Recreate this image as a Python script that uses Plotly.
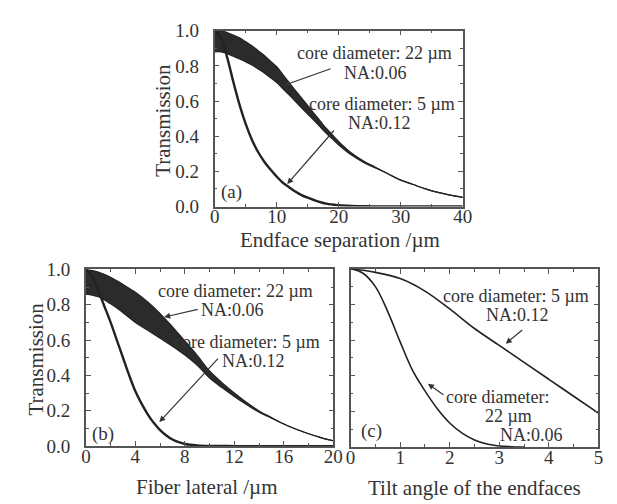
import plotly.graph_objects as go

W, H = 617, 504

# ---------------- data ----------------
# (a) Endface separation
a_x22 = [0, 1, 2, 3, 4, 5, 6, 7, 8, 9, 10, 11, 12, 13, 14, 15, 16, 17, 18, 19, 20, 22, 24, 26, 28, 30, 32, 34, 36, 38, 40]
a_up22 = [1.0, 1.0, 0.99, 0.975, 0.96, 0.937, 0.915, 0.887, 0.86, 0.827, 0.795, 0.75, 0.705, 0.661, 0.618, 0.574,
          0.53, 0.487, 0.444, 0.407, 0.37, 0.306, 0.259, 0.222, 0.185, 0.15, 0.125, 0.10, 0.08, 0.065, 0.052]
a_lo22 = [0.88, 0.88, 0.87, 0.855, 0.84, 0.823, 0.805, 0.783, 0.76, 0.733, 0.705, 0.67, 0.635, 0.599, 0.562, 0.526,
          0.49, 0.453, 0.416, 0.383, 0.35, 0.294, 0.251, 0.218, 0.185, 0.15, 0.125, 0.10, 0.08, 0.065, 0.052]
a_x5 = [0, 1, 2, 3, 4, 5, 6, 7, 8, 9, 10, 11, 12, 13, 14, 15, 16, 18, 20, 22, 25, 30, 40]
a_y5 = [1.0, 0.96, 0.85, 0.71, 0.58, 0.47, 0.38, 0.31, 0.255, 0.21, 0.17, 0.135, 0.11, 0.085, 0.065, 0.05,
        0.037, 0.016, 0.007, 0.003, 0.001, 0.0, 0.0]

# (b) Fiber lateral
b_x22 = [0, 1, 2, 3, 4, 5, 6, 7, 8, 9, 10, 11, 12, 13, 14, 15, 16, 17, 18, 19, 20]
b_up22 = [1.0, 0.985, 0.955, 0.915, 0.87, 0.815, 0.75, 0.675, 0.595, 0.513, 0.425, 0.359, 0.30, 0.246, 0.199,
          0.162, 0.125, 0.095, 0.07, 0.048, 0.03]
b_lo22 = [0.86, 0.845, 0.805, 0.755, 0.70, 0.655, 0.61, 0.565, 0.515, 0.457, 0.385, 0.331, 0.28, 0.234, 0.191,
          0.158, 0.125, 0.095, 0.07, 0.048, 0.03]
b_x5 = [0, 0.5, 1, 1.5, 2, 2.5, 3, 3.5, 4, 4.5, 5, 5.5, 6, 6.5, 7, 7.5, 8, 9, 10, 12, 20]
b_y5 = [1.0, 0.96, 0.88, 0.79, 0.70, 0.60, 0.50, 0.40, 0.31, 0.24, 0.18, 0.13, 0.09, 0.06, 0.037, 0.022,
        0.012, 0.004, 0.001, 0.0, 0.0]

# (c) Tilt angle
c_x5 = [0, 0.5, 1, 1.5, 2, 2.5, 3, 3.5, 4, 4.5, 5]
c_y5 = [1.0, 0.98, 0.945, 0.875, 0.775, 0.665, 0.57, 0.475, 0.38, 0.285, 0.19]
c_x22 = [0, 0.25, 0.5, 0.75, 1.0, 1.25, 1.5, 1.75, 2.0, 2.25, 2.5, 2.75, 3.0, 3.25, 3.5]
c_y22 = [1.0, 0.975, 0.90, 0.76, 0.59, 0.43, 0.315, 0.215, 0.135, 0.078, 0.04, 0.017, 0.006, 0.002, 0.0]

a_xticks = [0, 10, 20, 30, 40]
b_xticks = [0, 4, 8, 12, 16, 20]
c_xticks = [0, 1, 2, 3, 4, 5]
y_ticks = [0.0, 0.2, 0.4, 0.6, 0.8, 1.0]

# ---------------- styling ----------------
FONT = "Liberation Serif"
TXT = "#333333"
LC = "#222222"
FRAME = "#555555"


def px(x):
    return x / W


def py(y):
    return 1 - y / H


fig = go.Figure()


def band(x, up, lo, n):
    xa, ya = ("x", "y") if n == 1 else ("x%d" % n, "y%d" % n)
    fig.add_trace(go.Scatter(x=x, y=up, mode="lines", xaxis=xa, yaxis=ya, hoverinfo="skip",
                             line=dict(color=LC, width=1.2, shape="spline"), showlegend=False))
    fig.add_trace(go.Scatter(x=x, y=lo, mode="lines", xaxis=xa, yaxis=ya, hoverinfo="skip",
                             line=dict(color=LC, width=1.2, shape="spline"), fill="tonexty",
                             fillcolor="rgba(25,25,25,0.92)", showlegend=False))


def line(x, y, n, w=1.6):
    xa, ya = ("x", "y") if n == 1 else ("x%d" % n, "y%d" % n)
    fig.add_trace(go.Scatter(x=x, y=y, mode="lines", xaxis=xa, yaxis=ya, hoverinfo="skip",
                             line=dict(color=LC, width=w, shape="spline"), showlegend=False))


band(a_x22, a_up22, a_lo22, 1)
line(a_x5, a_y5, 1, 2.4)
band(b_x22, b_up22, b_lo22, 2)
line(b_x5, b_y5, 2, 2.4)
line(c_x5, c_y5, 3)
line(c_x22, c_y22, 3)

common = dict(showline=True, linecolor=FRAME, linewidth=1.5, mirror="allticks", ticks="inside",
              ticklen=5, tickwidth=1, tickcolor=FRAME, showgrid=False, zeroline=False,
              tickfont=dict(family=FONT, size=19, color=TXT))
xstand = -8
ystand = 10

fig.update_layout(
    width=W, height=H, margin=dict(l=0, r=0, t=0, b=0),
    paper_bgcolor="white", plot_bgcolor="white", showlegend=False,
    font=dict(family=FONT, color=TXT),
    xaxis=dict(common, domain=[px(206.7), px(461)], range=[0, 40], tickvals=a_xticks,
               minor=dict(dtick=5, ticks="inside", ticklen=3, tickcolor=FRAME), anchor="y",
               ticklabelstandoff=xstand),
    yaxis=dict(common, domain=[py(196.7), py(13.3)], range=[0, 1], tickvals=y_ticks, tickformat=".1f",
               minor=dict(dtick=0.1, ticks="inside", ticklen=3, tickcolor=FRAME), anchor="x",
               ticklabelstandoff=ystand),
    xaxis2=dict(common, domain=[px(74.7), px(328.3)], range=[0, 20], tickvals=b_xticks,
                minor=dict(dtick=2, ticks="inside", ticklen=3, tickcolor=FRAME), anchor="y2",
                ticklabelstandoff=xstand),
    yaxis2=dict(common, domain=[py(446.7), py(262.3)], range=[0, 1], tickvals=y_ticks, tickformat=".1f",
                minor=dict(dtick=0.1, ticks="inside", ticklen=3, tickcolor=FRAME), anchor="x2",
                ticklabelstandoff=ystand),
    xaxis3=dict(common, domain=[px(346), px(600)], range=[0, 5], tickvals=c_xticks,
                minor=dict(dtick=0.5, ticks="inside", ticklen=3, tickcolor=FRAME), anchor="y3",
                ticklabelstandoff=xstand),
    yaxis3=dict(common, domain=[py(447.7), py(261.7)], range=[0, 1], tickvals=y_ticks,
                showticklabels=False,
                minor=dict(dtick=0.1, ticks="inside", ticklen=3, tickcolor=FRAME), anchor="x3"),
)


def text(t, x, y, size=18, angle=0):
    fig.add_annotation(text=t, x=px(x), y=py(y), xref="paper", yref="paper", showarrow=False,
                       xanchor="center", yanchor="middle", textangle=angle,
                       font=dict(family=FONT, size=size, color=TXT))


def arrow(n, x, y, ax, ay):
    xr, yr = ("x", "y") if n == 1 else ("x%d" % n, "y%d" % n)
    fig.add_annotation(x=x, y=y, xref=xr, yref=yr, ax=ax, ay=ay, showarrow=True, text="",
                       arrowhead=2, arrowsize=1, arrowwidth=1.2, arrowcolor=TXT, standoff=0)


# axis titles
text("Transmission", 153, 107, 21, -90)
text("Transmission", 24, 356, 21, -90)
text("Endface separation /µm", 335, 232, 21)
text("Fiber lateral /µm", 199, 489, 21)
text("Tilt angle of the endfaces", 473, 490, 21)

# panel labels
text("(a)", 224, 182, 19)
text("(b)", 92, 434, 19)
text("(c)", 367, 431, 19)

# (a) labels
text("core diameter: 22 µm", 370, 37)
text("NA:0.06", 372, 57)
text("core diameter: 5 µm", 378, 90)
text("NA:0.12", 376, 110)
arrow(1, 11.2, 0.69, 48, -17)
arrow(1, 11.7, 0.128, 48, -55)

# (b) labels
text("core diameter: 22 µm", 228, 285)
text("NA:0.06", 225, 305)
text("core diameter: 5 µm", 240, 338)
text("NA:0.12", 247, 358)
arrow(2, 6.33, 0.73, 35, -8)
arrow(2, 5.94, 0.136, 60, -65)

# (c) labels
text("core diameter: 5 µm", 516, 290)
text("NA:0.12", 517, 310)
arrow(3, 3.13, 0.58, 18, -15)
text("core diameter:", 497, 395)
text("22 µm", 508, 415)
text("NA:0.06", 531, 435)
arrow(3, 1.56, 0.355, 17, 12)

fig.write_html("out.html")
